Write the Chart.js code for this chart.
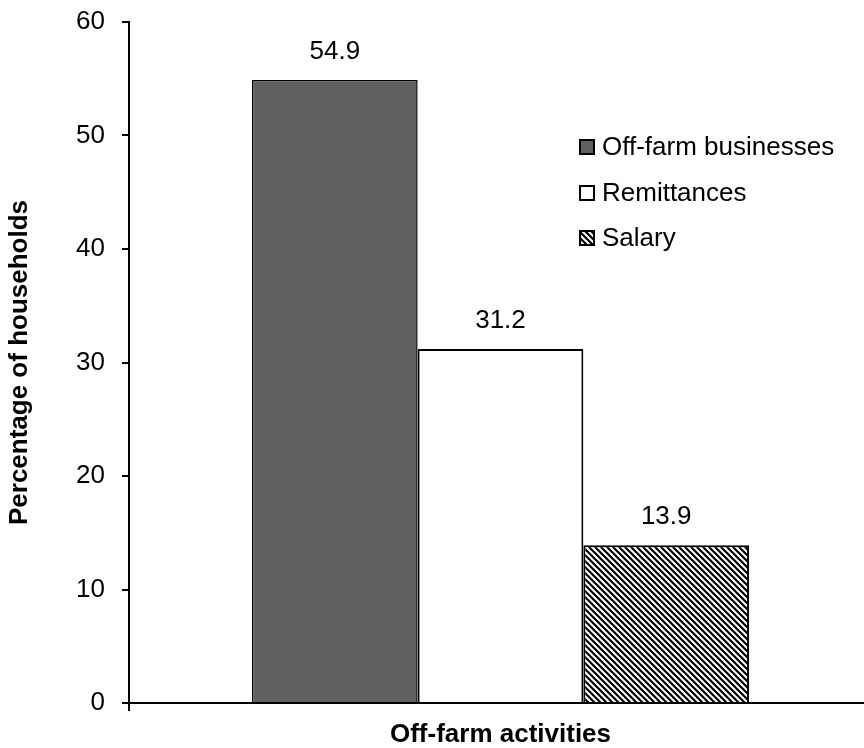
<!DOCTYPE html>
<html>
<head>
<meta charset="utf-8">
<script src="https://cdn.jsdelivr.net/npm/chart.js@4/dist/chart.umd.min.js"></script>
<style>
html,body{margin:0;padding:0;background:#fff;overflow:hidden;}
#wrap{width:864px;height:748px;overflow:hidden;}
</style>
</head>
<body>
<div id="wrap"><canvas id="c" width="872" height="748"></canvas></div>
<script>
const categories = ['Off-farm activities'];
const seriesNames = ['Off-farm businesses', 'Remittances', 'Salary'];
const businessValues = [54.9];
const remittanceValues = [31.2];
const salaryValues = [13.9];
const yTicks = [0, 10, 20, 30, 40, 50, 60];

const FONT = "'Liberation Sans', Arial, sans-serif";

function makeHatch(size) {
  const c = document.createElement('canvas');
  c.width = size; c.height = size;
  const g = c.getContext('2d');
  g.fillStyle = '#fff';
  g.fillRect(0, 0, size, size);
  g.strokeStyle = '#000';
  g.lineWidth = size * 0.36;
  g.beginPath();
  for (let k = -1; k <= 1; k++) {
    g.moveTo(k * size - 1, -1);
    g.lineTo(k * size + size + 1, size + 1);
  }
  g.stroke();
  return document.getElementById('c').getContext('2d').createPattern(c, 'repeat');
}
const hatch = makeHatch(6);

const valueLabels = {
  id: 'valueLabels',
  afterDatasetsDraw(chart) {
    const ctx = chart.ctx;
    ctx.save();
    ctx.font = '26px ' + FONT;
    ctx.fillStyle = '#000';
    ctx.textAlign = 'center';
    ctx.textBaseline = 'middle';
    chart.data.datasets.forEach((ds, i) => {
      chart.getDatasetMeta(i).data.forEach((bar, j) => {
        ctx.fillText(ds.data[j].toFixed(1), bar.x, bar.y - 28);
      });
    });
    ctx.restore();
  }
};

const customLegend = {
  id: 'customLegend',
  afterDraw(chart) {
    const ctx = chart.ctx;
    ctx.save();
    ctx.font = '26px ' + FONT;
    ctx.textBaseline = 'middle';
    ctx.textAlign = 'left';
    const x0 = 580, ys = [147, 193, 238], box = 14;
    chart.data.datasets.forEach((ds, i) => {
      const y = ys[i];
      ctx.fillStyle = ds.backgroundColor;
      ctx.fillRect(x0, y - box / 2, box, box);
      ctx.lineWidth = 2;
      ctx.strokeStyle = '#000';
      ctx.strokeRect(x0, y - box / 2, box, box);
      ctx.fillStyle = '#000';
      ctx.fillText(ds.label, x0 + 22, y + 1);
    });
    ctx.restore();
  }
};

new Chart(document.getElementById('c'), {
  type: 'bar',
  data: {
    labels: categories,
    datasets: [
      { label: seriesNames[0], data: businessValues, backgroundColor: '#606060', borderColor: '#000', borderWidth: 1.5 },
      { label: seriesNames[1], data: remittanceValues, backgroundColor: '#ffffff', borderColor: '#000', borderWidth: 2 },
      { label: seriesNames[2], data: salaryValues, backgroundColor: hatch, borderColor: '#000', borderWidth: 2 }
    ]
  },
  options: {
    responsive: false,
    animation: false,
    layout: { padding: { top: 22, right: 0, left: 0, bottom: 0 } },
    datasets: { bar: { barPercentage: 1.0, categoryPercentage: 0.669, borderSkipped: 'bottom' } },
    plugins: { legend: { display: false }, tooltip: { enabled: false } },
    scales: {
      x: {
        offset: true,
        border: { color: '#000', width: 2 },
        grid: {
          offset: true,
          drawOnChartArea: false,
          drawTicks: true,
          tickLength: 8,
          lineWidth: 2,
          color: (c) => (c.index === 0 ? '#000' : 'rgba(0,0,0,0)')
        },
        ticks: { display: false },
        title: {
          display: true,
          text: categories[0],
          color: '#000',
          font: { family: FONT, size: 26, weight: 'bold' },
          padding: { top: 0, bottom: -2 }
        },
        afterFit(s) { s.height = 45; }
      },
      y: {
        min: 0,
        max: 60,
        afterBuildTicks(s) { s.ticks = yTicks.map(v => ({ value: v })); },
        border: { color: '#000', width: 2 },
        grid: {
          drawOnChartArea: false,
          drawTicks: true,
          tickLength: 7,
          lineWidth: 2,
          color: '#000'
        },
        ticks: {
          color: '#000',
          font: { family: FONT, size: 26 },
          padding: 17
        },
        title: {
          display: true,
          text: 'Percentage of households',
          color: '#000',
          font: { family: FONT, size: 26, weight: 'bold' },
          padding: { top: 4, bottom: 0 }
        },
        afterFit(s) { s.width = 129; s.paddingTop = 0; s.paddingBottom = 0; }
      }
    }
  },
  plugins: [valueLabels, customLegend]
});
</script>
</body>
</html>
